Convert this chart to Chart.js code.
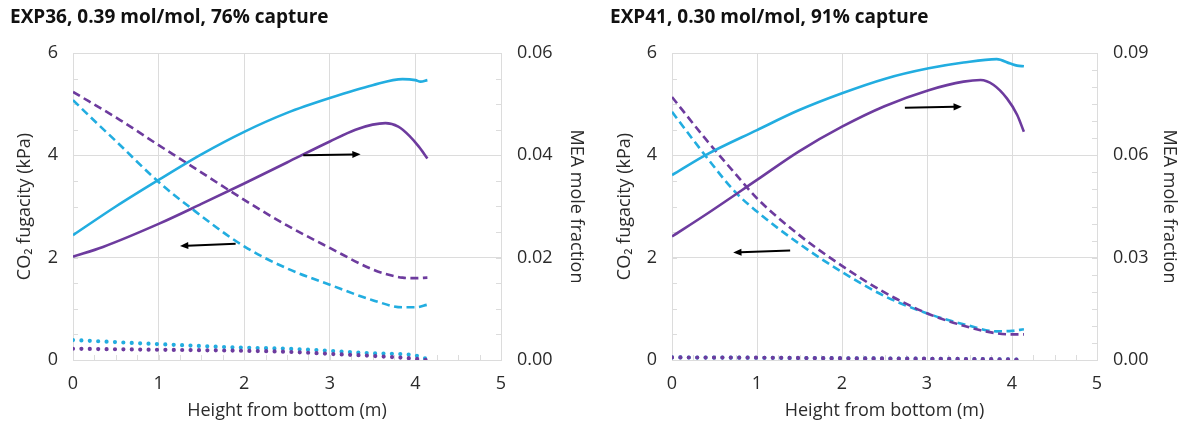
<!DOCTYPE html>
<html>
<head>
    <title>CO2 fugacity and MEA mole fraction profiles</title>
    <script src="https://cdn.jsdelivr.net/npm/chart.js"></script>
    <style>
        body { margin: 0; background: #fff; }
        canvas { position: absolute; top: 0; }
        #exp36 { left: 0; }
        #exp41 { left: 592px; }
    </style>
</head>
<body>
    <canvas id="exp36" width="592" height="427"></canvas>
    <canvas id="exp41" width="593" height="427"></canvas>

    <script>
        // EXP36 - heights (m), fugacities (kPa), MEA mole fractions
        const h36Mea1 = [0, 0.5, 1.0, 1.5, 2.0, 2.5, 3.0, 3.5, 3.85, 4.0, 4.06, 4.14];
        const mea36Cyan = [0.0244, 0.0300, 0.0352, 0.0402, 0.0446, 0.0483, 0.0512, 0.0537, 0.0549, 0.0547, 0.0544, 0.0547];
        const h36Mea2 = [0, 0.35, 1.0, 1.5, 2.0, 2.5, 3.0, 3.3, 3.5, 3.65, 3.8, 3.93, 4.04, 4.14];
        const mea36Purple = [0.0202, 0.0221, 0.0266, 0.0305, 0.0345, 0.0386, 0.0427, 0.0450, 0.0460, 0.0463, 0.0456, 0.0438, 0.0417, 0.0394];
        const h36Dash1 = [0, 0.24, 0.5, 1.0, 1.37, 2.0, 2.5, 3.0, 3.5, 3.85, 4.0, 4.14];
        const fug36Cyan = [5.08, 4.69, 4.28, 3.48, 2.98, 2.22, 1.79, 1.47, 1.17, 1.03, 1.03, 1.08];
        const h36Dash2 = [0, 0.55, 1.0, 1.31, 1.82, 2.0, 2.5, 3.0, 3.5, 3.7, 3.85, 4.0, 4.14];
        const fug36Purple = [5.24, 4.69, 4.20, 3.87, 3.32, 3.13, 2.63, 2.19, 1.77, 1.66, 1.61, 1.60, 1.61];
        const h36Dot = [0, 1.0, 2.0, 2.5, 3.0, 3.5, 3.96, 4.14];
        const eq36Cyan = [0.39, 0.31, 0.24, 0.22, 0.18, 0.13, 0.10, 0.02];
        const eq36Purple = [0.22, 0.20, 0.18, 0.16, 0.12, 0.08, 0.03, 0.0];

        // EXP41
        const h41Mea1 = [0, 0.39, 1.0, 1.49, 2.0, 2.5, 3.02, 3.43, 3.82, 3.98, 4.06, 4.14];
        const mea41Cyan = [0.0542, 0.0600, 0.0674, 0.0732, 0.0782, 0.0824, 0.0855, 0.0872, 0.0882, 0.0869, 0.0863, 0.0861];
        const h41Mea2 = [0, 0.39, 1.0, 1.49, 2.0, 2.5, 3.02, 3.43, 3.63, 3.78, 3.94, 4.06, 4.14];
        const mea41Purple = [0.0362, 0.0425, 0.0528, 0.0611, 0.0684, 0.0744, 0.0791, 0.0816, 0.0821, 0.0807, 0.0767, 0.0719, 0.0669];
        const h41Dash = [0, 0.39, 0.74, 1.0, 1.49, 2.0, 2.5, 3.02, 3.43, 3.82, 4.0, 4.14];
        const fug41Cyan = [4.85, 4.00, 3.29, 2.90, 2.28, 1.72, 1.25, 0.90, 0.70, 0.56, 0.57, 0.60];
        const fug41Purple = [5.14, 4.33, 3.65, 3.16, 2.45, 1.84, 1.32, 0.90, 0.67, 0.52, 0.50, 0.50];
        const h41Dot = [0, 1.0, 2.0, 3.0, 4.0, 4.14];
        const eq41Cyan = [0.05, 0.044, 0.034, 0.024, 0.010, 0.005];
        const eq41Purple = [0.05, 0.045, 0.035, 0.025, 0.010, 0.005];

        const CYAN = '#22ade0';
        const PURPLE = '#6d3b9e';
        const GRID = '#dcdcdc';
        const TEXT = '#2b2b2b';
        const FONT = 'Open Sans';

        function pts(xs, ys) {
            return xs.map((x, i) => ({ x: x, y: ys[i] }));
        }

        function series(xs, ys, color, style, axis) {
            const ds = {
                data: pts(xs, ys),
                yAxisID: axis,
                borderColor: color,
                borderWidth: 2.6,
                pointRadius: 0,
                tension: 0.4,
                cubicInterpolationMode: 'monotone',
                fill: false
            };
            if (style === 'dash') {
                ds.borderDash = [8, 4.5];
            } else if (style === 'dot') {
                ds.borderDash = [0, 8.4];
                ds.borderWidth = 4.2;
                ds.borderCapStyle = 'round';
            }
            return ds;
        }

        // small inside tick marks, like the spreadsheet minor ticks
        const minorTicks = {
            id: 'minorTicks',
            beforeDatasetsDraw(chart, args, opts) {
                const { ctx, chartArea: a, scales } = chart;
                ctx.save();
                ctx.strokeStyle = GRID;
                ctx.lineWidth = 1;
                ctx.beginPath();
                for (let v = 0; v <= 5 + 1e-9; v += 0.25) {
                    const px = Math.round(scales.x.getPixelForValue(v)) + 0.5;
                    ctx.moveTo(px, a.bottom);
                    ctx.lineTo(px, a.bottom - 5);
                }
                for (let v = 0; v <= 6 + 1e-9; v += 0.5) {
                    const py = Math.round(scales.y.getPixelForValue(v)) + 0.5;
                    ctx.moveTo(a.left, py);
                    ctx.lineTo(a.left + 5, py);
                }
                const top = scales.y1.max;
                for (let v = 0; v <= top + 1e-9; v += opts.step) {
                    const py = Math.round(scales.y1.getPixelForValue(v)) + 0.5;
                    ctx.moveTo(a.right, py);
                    ctx.lineTo(a.right - 5, py);
                }
                ctx.stroke();
                ctx.restore();
            }
        };

        // arrows pointing each group of curves to its axis
        const arrows = {
            id: 'arrows',
            afterDatasetsDraw(chart, args, opts) {
                const { ctx, scales } = chart;
                ctx.save();
                ctx.strokeStyle = '#000';
                ctx.fillStyle = '#000';
                ctx.lineWidth = 2;
                opts.list.forEach(a => {
                    const x1 = scales.x.getPixelForValue(a.from);
                    const x2 = scales.x.getPixelForValue(a.to);
                    const y1 = scales.y.getPixelForValue(a.yFrom);
                    const y2 = scales.y.getPixelForValue(a.yTo);
                    const ang = Math.atan2(y2 - y1, x2 - x1);
                    const head = 9;
                    ctx.beginPath();
                    ctx.moveTo(x1, y1);
                    ctx.lineTo(x2 - Math.cos(ang) * head * 0.8, y2 - Math.sin(ang) * head * 0.8);
                    ctx.stroke();
                    ctx.beginPath();
                    ctx.moveTo(x2, y2);
                    ctx.lineTo(x2 - head * Math.cos(ang - 0.4), y2 - head * Math.sin(ang - 0.4));
                    ctx.lineTo(x2 - head * Math.cos(ang + 0.4), y2 - head * Math.sin(ang + 0.4));
                    ctx.closePath();
                    ctx.fill();
                });
                ctx.restore();
            }
        };

        function makePanel(id, title, datasets, meaMax, pad, widths, arrowList) {
            new Chart(document.getElementById(id), {
                type: 'line',
                data: { datasets: datasets },
                plugins: [minorTicks, arrows],
                options: {
                    responsive: false,
                    animation: false,
                    layout: { padding: { left: pad, right: 0, top: 0, bottom: 0 } },
                    plugins: {
                        legend: { display: false },
                        tooltip: { enabled: false },
                        title: {
                            display: true,
                            text: title,
                            align: 'start',
                            color: '#111',
                            font: { family: FONT, size: 19, weight: 'bold', lineHeight: 1.2 },
                            padding: { top: 6.6, bottom: 23.6 }
                        },
                        minorTicks: { step: 0.005 },
                        arrows: { list: arrowList }
                    },
                    scales: {
                        x: {
                            type: 'linear',
                            min: 0,
                            max: 5,
                            ticks: { stepSize: 1, color: TEXT, font: { family: FONT, size: 18 }, padding: 13 },
                            grid: { color: GRID, drawTicks: false },
                            border: { color: GRID },
                            title: {
                                display: true,
                                text: 'Height from bottom (m)',
                                color: TEXT,
                                font: { family: FONT, size: 18 },
                                padding: { top: 0, bottom: 5 }
                            },
                            afterFit(s) { s.height = 67; }
                        },
                        y: {
                            position: 'left',
                            min: 0,
                            max: 6,
                            ticks: { stepSize: 2, color: TEXT, font: { family: FONT, size: 18 }, padding: 15 },
                            grid: { color: GRID, drawTicks: false },
                            border: { color: GRID },
                            title: {
                                display: true,
                                text: 'CO\u2082 fugacity (kPa)',
                                color: TEXT,
                                font: { family: FONT, size: 18 },
                                padding: { top: 4, bottom: 0 }
                            },
                            afterFit(s) { s.width = widths[0]; }
                        },
                        y1: {
                            position: 'right',
                            min: 0,
                            max: meaMax,
                            ticks: {
                                stepSize: meaMax / 3,
                                color: TEXT,
                                font: { family: FONT, size: 18 },
                                padding: 16,
                                callback: v => v.toFixed(2)
                            },
                            grid: { drawOnChartArea: false, drawTicks: false },
                            border: { color: GRID },
                            title: {
                                display: true,
                                text: 'MEA mole fraction',
                                color: TEXT,
                                font: { family: FONT, size: 18 },
                                padding: { top: 5, bottom: 0 }
                            },
                            afterFit(s) { s.width = widths[1]; }
                        }
                    }
                }
            });
        }

        // first listed dataset is drawn on top
        makePanel('exp36', 'EXP36, 0.39 mol/mol, 76% capture', [
            series(h36Dot, eq36Purple, PURPLE, 'dot', 'y'),
            series(h36Dot, eq36Cyan, CYAN, 'dot', 'y'),
            series(h36Mea2, mea36Purple, PURPLE, 'solid', 'y1'),
            series(h36Mea1, mea36Cyan, CYAN, 'solid', 'y1'),
            series(h36Dash2, fug36Purple, PURPLE, 'dash', 'y'),
            series(h36Dash1, fug36Cyan, CYAN, 'dash', 'y')
        ], 0.06, 10, [63, 91], [
            { from: 2.69, to: 3.36, yFrom: 4.0, yTo: 4.02 },
            { from: 1.90, to: 1.25, yFrom: 2.27, yTo: 2.23 }
        ]);

        makePanel('exp41', 'EXP41, 0.30 mol/mol, 91% capture', [
            series(h41Dot, eq41Purple, PURPLE, 'dot', 'y'),
            series(h41Dot, eq41Cyan, CYAN, 'dot', 'y'),
            series(h41Mea2, mea41Purple, PURPLE, 'solid', 'y1'),
            series(h41Mea1, mea41Cyan, CYAN, 'solid', 'y1'),
            series(h41Dash, fug41Purple, PURPLE, 'dash', 'y'),
            series(h41Dash, fug41Cyan, CYAN, 'dash', 'y')
        ], 0.09, 18, [62, 88], [
            { from: 2.74, to: 3.41, yFrom: 4.93, yTo: 4.95 },
            { from: 1.39, to: 0.72, yFrom: 2.14, yTo: 2.10 }
        ]);
    </script>
</body>
</html>
